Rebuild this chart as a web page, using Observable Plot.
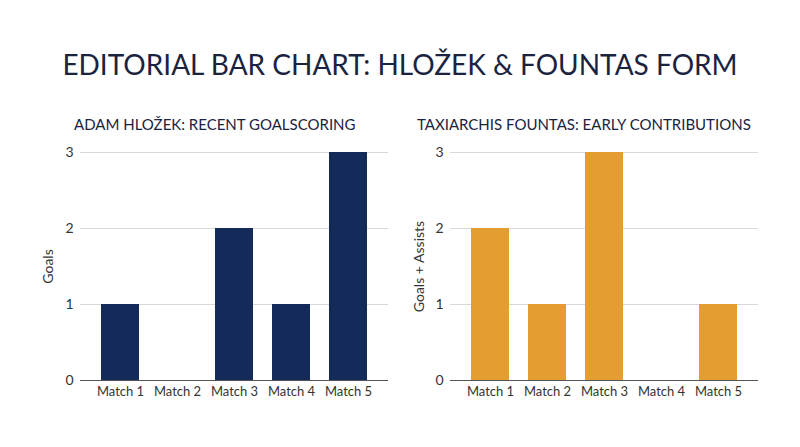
<!DOCTYPE html>
<html>
<head>
<meta charset="utf-8">
<script src="https://cdn.jsdelivr.net/npm/d3@7"></script>
<script src="https://cdn.jsdelivr.net/npm/@observablehq/plot@0.6"></script>
<style>
  html, body { margin: 0; padding: 0; background: #fff; }
  body { width: 800px; height: 447px; position: relative; overflow: hidden; font-family: Lato, "Open Sans", sans-serif; color: #1a2340; }
  #title { position: absolute; left: 0; width: 800px; top: 47px; text-align: center; font-size: 28px; font-weight: 400; color: #1a2340; }
  .sub { position: absolute; top: 115px; font-size: 15px; color: #1a2340; }
  .panel { position: absolute; top: 140px; }
  .panel svg { font-family: Lato, "Open Sans", sans-serif; }
</style>
</head>
<body>
<div id="title">EDITORIAL BAR CHART: HLOŽEK &amp; FOUNTAS FORM</div>
<div class="sub" style="left:74px">ADAM HLOŽEK: RECENT GOALSCORING</div>
<div class="sub" style="left:417px">TAXIARCHIS FOUNTAS: EARLY CONTRIBUTIONS</div>
<div class="panel" id="left" style="left:0px"></div>
<div class="panel" id="right" style="left:400px"></div>
<script>
const matches = ["Match 1", "Match 2", "Match 3", "Match 4", "Match 5"];
const hlozekGoals = [1, 0, 2, 1, 3];
const fountasContrib = [2, 1, 3, 0, 1];
const yTicks = [0, 1, 2, 3];

function panel(values, color, yLabel, marginLeft, marginRight, labelDx) {
  const data = matches.map((m, i) => ({match: m, value: values[i]}));
  return Plot.plot({
    width: 400,
    height: 270,
    marginLeft, marginRight,
    marginTop: 12,
    marginBottom: 30,
    style: {fontSize: "13px", color: "#333", background: "transparent"},
    x: {domain: matches, padding: 0.34, label: null},
    y: {domain: [0, 3], label: null},
    marks: [
      Plot.gridY(yTicks, {stroke: "#d8d8d8", strokeOpacity: 1}),
      Plot.barY(data, {x: "match", y: "value", fill: color}),
      Plot.ruleY([0], {stroke: "#555", strokeWidth: 1.2}),
      Plot.axisX({tickSize: 0, tickPadding: 6, fontSize: 13, label: null, fill: "#333"}),
      Plot.axisY(yTicks, {tickSize: 0, tickPadding: 7, tickFormat: "d", fontSize: 14, fill: "#333", label: null}),
      Plot.text([yLabel], {frameAnchor: "left", textAnchor: "middle", rotate: -90, dx: labelDx, fontSize: 14, fill: "#333", text: d => d})
    ]
  });
}

document.getElementById("left").append(panel(hlozekGoals, "#142a58", "Goals", 80, 12, -32));
document.getElementById("right").append(panel(fountasContrib, "#e49d30", "Goals + Assists", 50, 42, -31));
</script>
</body>
</html>
